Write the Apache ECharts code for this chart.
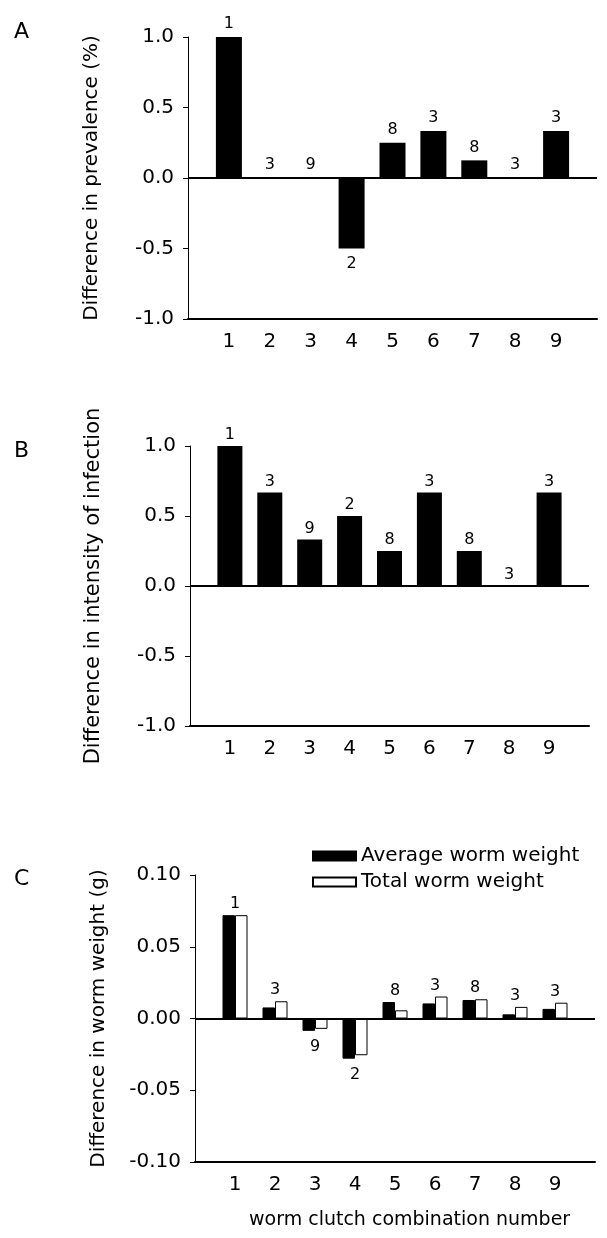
<!DOCTYPE html>
<html>
<head>
<meta charset="utf-8">
<script src="https://cdn.jsdelivr.net/npm/echarts@6/dist/echarts.min.js"></script>
<style>
  html, body { margin: 0; padding: 0; background: #fff; }
  #chart { width: 607px; height: 1238px; }
</style>
</head>
<body>
<div id="chart"></div>
<script>
var categories = ['1', '2', '3', '4', '5', '6', '7', '8', '9'];

// panel A
var prevalenceDiff = [1.0, 0, 0, -0.5, 0.25, 0.333, 0.125, 0, 0.333];
var prevalenceN = ['1', '3', '9', '2', '8', '3', '8', '3', '3'];

// panel B
var intensityDiff = [1.0, 0.667, 0.333, 0.5, 0.25, 0.667, 0.25, 0, 0.667];
var intensityN = ['1', '3', '9', '2', '8', '3', '8', '3', '3'];

// panel C
var avgWeightDiff = [0.072, 0.0077, -0.0086, -0.028, 0.0115, 0.0105, 0.0129, 0.0029, 0.0067];
var totalWeightDiff = [0.072, 0.012, -0.0072, -0.0256, 0.0057, 0.0153, 0.0134, 0.0081, 0.011];
var weightN = ['1', '3', '9', '2', '8', '3', '8', '3', '3'];

var FONT = 'DejaVu Sans';

// one empty slot each side so the axis runs from 0 to 10
var xCats = [''].concat(categories, ['']);
function pad(arr) { return [null].concat(arr, [null]); }

function barData(vals, topDist, botDist) {
	return pad(vals).map(function(v) {
		if (v === null) return null;
		return {
			value: v,
			label: {
				position: v < 0 ? 'bottom' : 'top',
				distance: v < 0 ? botDist : topDist
			}
		};
	});
}

function labelFrom(arr) {
	return function(p) { return arr[p.dataIndex - 1]; };
}

var grids = [
	{ left: 188, top: 37, width: 409, height: 282 },
	{ left: 190, top: 446, width: 399, height: 280 },
	{ left: 195, top: 875, width: 400, height: 287 }
];

function xAxisFor(i) {
	return {
		type: 'category',
		gridIndex: i,
		data: xCats,
		boundaryGap: false,
		axisLine: { show: true, onZero: false, lineStyle: { color: '#000', width: 2 } },
		axisTick: { show: false },
		splitLine: { show: false },
		axisLabel: { interval: 0, color: '#000', fontFamily: FONT, fontSize: 20, margin: 13 }
	};
}

function yAxisFor(i, name, min, max, interval, digits, nameSize) {
	return {
		type: 'value',
		gridIndex: i,
		min: min,
		max: max,
		interval: interval,
		name: name,
		nameLocation: 'middle',
		nameGap: 86,
		nameTextStyle: { color: '#000', fontFamily: FONT, fontSize: nameSize },
		axisLine: { show: true, lineStyle: { color: '#000', width: 1 } },
		axisTick: { show: true, length: 5, lineStyle: { color: '#000' } },
		splitLine: { show: false },
		axisLabel: {
			color: '#000', fontFamily: FONT, fontSize: 20, margin: 14,
			formatter: function(v) { return v.toFixed(digits); }
		}
	};
}

var zeroLine = {
	silent: true,
	symbol: ['none', 'none'],
	label: { show: false },
	lineStyle: { color: '#000', width: 2, type: 'solid' },
	data: [{ yAxis: 0 }]
};

var barLabel = { show: true, color: '#000', opacity: 1, fontFamily: FONT, fontSize: 16 };

// label for each pair in C sits beyond the longer bar
var pairExtreme = avgWeightDiff.map(function(a, i) {
	var b = totalWeightDiff[i];
	return (a < 0 || b < 0) ? Math.min(a, b) : Math.max(a, b);
});

var myChart = echarts.init(document.getElementById('chart'), null, { renderer: 'canvas' });

var option = {
	animation: false,
	backgroundColor: '#fff',
	grid: grids,
	xAxis: [xAxisFor(0), xAxisFor(1), xAxisFor(2)],
	yAxis: [
		yAxisFor(0, 'Difference in prevalence (%)', -1, 1, 0.5, 1, 20),
		yAxisFor(1, 'Difference in intensity of infection', -1, 1, 0.5, 1, 21),
		yAxisFor(2, 'Difference in worm weight (g)', -0.1, 0.1, 0.05, 2, 20)
	],
	legend: {
		orient: 'vertical',
		left: 307,
		top: 841,
		icon: 'rect',
		itemWidth: 43,
		itemHeight: 9,
		itemGap: 6,
		textStyle: { color: '#000', fontFamily: FONT, fontSize: 20 },
		data: ['Average worm weight', 'Total worm weight']
	},
	graphic: [
		{ type: 'text', left: 14, top: 21, style: { text: 'A', font: '22px "DejaVu Sans"', fill: '#000' } },
		{ type: 'text', left: 14, top: 440, style: { text: 'B', font: '22px "DejaVu Sans"', fill: '#000' } },
		{ type: 'text', left: 14, top: 868, style: { text: 'C', font: '22px "DejaVu Sans"', fill: '#000' } },
		{ type: 'text', left: 249, top: 1211, style: { text: 'worm clutch combination number', font: '19px "DejaVu Sans"', fill: '#000' } }
	],
	series: [
		{
			type: 'bar', xAxisIndex: 0, yAxisIndex: 0,
			data: barData(prevalenceDiff, 5, 7),
			barWidth: 26,
			itemStyle: { color: '#000' },
			label: Object.assign({ formatter: labelFrom(prevalenceN) }, barLabel),
			markLine: zeroLine
		},
		{
			type: 'bar', xAxisIndex: 1, yAxisIndex: 1,
			data: barData(intensityDiff, 3, 7),
			barWidth: 25,
			itemStyle: { color: '#000' },
			label: Object.assign({ formatter: labelFrom(intensityN) }, barLabel),
			markLine: zeroLine
		},
		{
			name: 'Average worm weight',
			type: 'bar', xAxisIndex: 2, yAxisIndex: 2,
			data: pad(avgWeightDiff),
			barWidth: 12.5,
			barGap: '0%',
			itemStyle: { color: '#000', borderColor: '#000', borderWidth: 1 },
			markLine: zeroLine
		},
		{
			name: 'Total worm weight',
			type: 'bar', xAxisIndex: 2, yAxisIndex: 2,
			data: pad(totalWeightDiff),
			barWidth: 12.5,
			barGap: '0%',
			itemStyle: { color: '#fff', borderColor: '#000', borderWidth: 1 }
		},
		{
			type: 'scatter', xAxisIndex: 2, yAxisIndex: 2,
			symbolSize: 0,
			silent: true,
			itemStyle: { opacity: 1 },
			data: barData(pairExtreme, 3, 8),
			label: Object.assign({ formatter: labelFrom(weightN) }, barLabel)
		}
	]
};

myChart.setOption(option);
</script>
</body>
</html>
